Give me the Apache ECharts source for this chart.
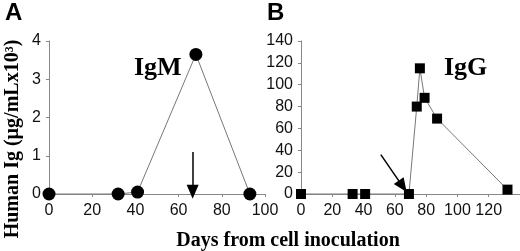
<!DOCTYPE html>
<html>
<head>
<meta charset="utf-8">
<script src="https://cdn.jsdelivr.net/npm/echarts@6/dist/echarts.min.js"></script>
<style>
  html, body { margin: 0; padding: 0; background: #fff; }
  #main { width: 520px; height: 251px; }
</style>
</head>
<body>
<div id="main"></div>
<script>
// panel A: IgM
var igmDays = [0, 32, 41, 68, 93];
var igmValues = [0, 0, 0.05, 3.65, 0];
// panel B: IgG
var iggDays = [0, 33, 41, 69, 74, 76, 79, 87, 132];
var iggValues = [0, 0, 0, 0, 80, 115, 88, 69, 4];
// arrows (data coords): [from, to]
var arrowA = [[66.5, 1.1], [66.5, 0.06]];
var arrowB = [[51, 36], [65, 7]];

var chart = echarts.init(document.getElementById('main'));

function pairs(xs, ys) {
    return xs.map(function (x, i) { return [x, ys[i]]; });
}

var tickFont = { color: '#111', fontSize: 16, fontFamily: 'Liberation Sans, Arial, sans-serif' };
var axisLine = { lineStyle: { color: '#888', width: 1 } };
var serif = '"Liberation Serif", "Times New Roman", serif';

var option = {
    animation: false,
    backgroundColor: '#fff',
    title: [
        { text: 'A', left: 0, top: -4, textStyle: { fontSize: 24, fontWeight: 'bold', color: '#000', fontFamily: 'Liberation Sans, Arial' } },
        { text: 'B', left: 262, top: -4, textStyle: { fontSize: 24, fontWeight: 'bold', color: '#000', fontFamily: 'Liberation Sans, Arial' } }
    ],
    grid: [
        { left: 49, top: 41, width: 216, bottom: 57 },
        { left: 301, top: 41, right: -7, bottom: 57 }
    ],
    xAxis: [
        {
            gridIndex: 0, type: 'value', min: 0, max: 100, interval: 20,
            axisLine: axisLine, axisTick: { show: true, length: 3, lineStyle: { color: '#888' } },
            axisLabel: Object.assign({ margin: 9 }, tickFont), splitLine: { show: false }
        },
        {
            gridIndex: 1, type: 'value', min: 0, max: 140, interval: 20,
            axisLine: axisLine, axisTick: { show: true, length: 3, lineStyle: { color: '#888' } },
            axisLabel: Object.assign({ margin: 9, showMaxLabel: false }, tickFont), splitLine: { show: false }
        }
    ],
    yAxis: [
        {
            gridIndex: 0, type: 'value', min: 0, max: 4, interval: 1,
            axisLine: { show: true, lineStyle: { color: '#888', width: 1 } },
            axisTick: { show: true, length: 3, lineStyle: { color: '#888' } },
            axisLabel: Object.assign({ margin: 8 }, tickFont), splitLine: { show: false }
        },
        {
            gridIndex: 1, type: 'value', min: 0, max: 140, interval: 20,
            axisLine: { show: true, lineStyle: { color: '#888', width: 1 } },
            axisTick: { show: true, length: 3, lineStyle: { color: '#888' } },
            axisLabel: Object.assign({ margin: 8 }, tickFont), splitLine: { show: false }
        }
    ],
    series: [
        {
            type: 'line', xAxisIndex: 0, yAxisIndex: 0,
            data: pairs(igmDays, igmValues),
            symbol: 'circle', symbolSize: 13,
            itemStyle: { color: '#000' },
            lineStyle: { color: '#777', width: 1 },
            z: 3,
            markLine: {
                silent: true, symbol: ['none', 'triangle'], symbolSize: [12, 14],
                lineStyle: { color: '#000', width: 1.5, type: 'solid' },
                label: { show: false },
                data: [[{ coord: arrowA[0] }, { coord: arrowA[1] }]]
            }
        },
        {
            type: 'line', xAxisIndex: 1, yAxisIndex: 1,
            data: pairs(iggDays, iggValues),
            symbol: 'rect', symbolSize: 10,
            itemStyle: { color: '#000' },
            lineStyle: { color: '#777', width: 1 },
            z: 3,
            markLine: {
                silent: true, symbol: ['none', 'triangle'], symbolSize: [12, 14],
                lineStyle: { color: '#000', width: 1.5, type: 'solid' },
                label: { show: false },
                data: [[{ coord: arrowB[0] }, { coord: arrowB[1] }]]
            }
        }
    ],
    graphic: [
        {
            type: 'text', left: 134, top: 55,
            style: { text: 'IgM', font: 'bold 26px ' + serif, fill: '#000' }
        },
        {
            type: 'text', left: 444, top: 55,
            style: { text: 'IgG', font: 'bold 26px ' + serif, fill: '#000' }
        },
        {
            type: 'text', x: 13, y: 139, rotation: Math.PI / 2,
            style: {
                text: 'Human Ig (µg/mLx10³)', font: 'bold 20px ' + serif,
                fill: '#000', align: 'center', verticalAlign: 'middle'
            }
        },
        {
            type: 'text', x: 288, y: 241,
            style: {
                text: 'Days from cell inoculation', font: 'bold 20px ' + serif,
                fill: '#000', align: 'center', verticalAlign: 'middle'
            }
        }
    ]
};

chart.setOption(option);
</script>
</body>
</html>
